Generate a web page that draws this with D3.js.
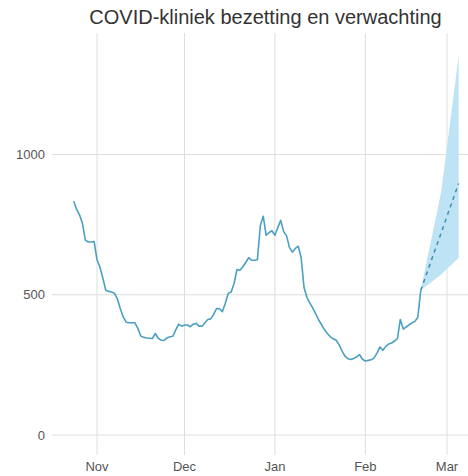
<!DOCTYPE html>
<html><head><meta charset="utf-8">
<script src="https://cdn.jsdelivr.net/npm/d3@7"></script>
<style>
html,body{margin:0;padding:0;background:#fff;}
svg{display:block;font-family:"Liberation Sans",Arial,sans-serif;}
</style></head>
<body><svg id="chart" width="468" height="476"></svg>
<script>
// Observed daily occupancy, starting 24 Oct 2020
const startDate = "2020-10-24";
const observed = [
 833,805,785,755,695,688,688,690,
 625,599,560,516,512,510,505,485,450,421,402,400,400,400,380,353,348,346,345,344,362,345,338,337,346,350,352,375,395,388,
 392,392,386,395,398,388,388,400,412,414,430,451,450,440,470,505,510,540,590,587,600,615,632,623,623,625,747,780,712,722,728,
 712,740,765,725,710,668,652,665,673,632,525,490,470,452,432,410,393,375,362,350,343,338,322,300,281,272,269,273,278,287,270,
 264,266,268,275,292,314,302,316,324,328,335,344,412,378,385,393,400,405,420,516
];
// Forecast
const forecastDates = ["2021-02-20","2021-02-27","2021-03-05"];
const forecastMid   = [516, 721, 897];
const forecastLow   = [516, 572, 632];
const forecastHigh  = [516, 866, 1352];
const yTicks = [0, 500, 1000];
const xTickDates = ["2020-11-01","2020-12-01","2021-01-01","2021-02-01","2021-03-01"];
const xTickLabels = ["Nov","Dec","Jan","Feb","Mar"];
const title = "COVID-kliniek bezetting en verwachting";

(function(){
const svg = d3.select("#chart");
const parse = d3.utcParse("%Y-%m-%d");
const pLeft = 52, pRight = 468, pTop = 33, pBottom = 455;

const x = d3.scaleUtc().domain([parse("2020-11-01"), parse("2021-03-01")]).range([97, 447]);
const y = d3.scaleLinear().domain([0, 1000]).range([435, 154.5]);

const start = parse(startDate);
const obs = observed.map((v,i) => ({date: d3.utcDay.offset(start, i), v}));
const fc = forecastDates.map((d,i) => ({date: parse(d), mid: forecastMid[i], lo: forecastLow[i], hi: forecastHigh[i]}));

// grid
const g = svg.append("g");
g.selectAll(".hg").data(yTicks).join("line")
  .attr("x1", pLeft).attr("x2", pRight)
  .attr("y1", d => y(d)).attr("y2", d => y(d))
  .attr("stroke", "#dedede").attr("stroke-width", 1);
g.selectAll(".vg").data(xTickDates).join("line")
  .attr("x1", d => x(parse(d))).attr("x2", d => x(parse(d)))
  .attr("y1", pTop).attr("y2", pBottom)
  .attr("stroke", "#dedede").attr("stroke-width", 1);

// axes labels
svg.append("g").selectAll("text").data(yTicks).join("text")
  .attr("x", 45).attr("y", d => y(d)).attr("dy", "0.35em")
  .attr("text-anchor", "end").attr("font-size", 13).attr("fill", "#555")
  .text(d => d);
svg.append("g").selectAll("text").data(xTickDates).join("text")
  .attr("x", d => x(parse(d))).attr("y", 466).attr("dy", "0.35em")
  .attr("text-anchor", "middle").attr("font-size", 13).attr("fill", "#555")
  .text((d,i) => xTickLabels[i]);

// band
svg.append("path").datum(fc)
  .attr("d", d3.area().x(d => x(d.date)).y0(d => y(d.lo)).y1(d => y(d.hi)))
  .attr("fill", "#bde3f4");

// observed line
svg.append("path").datum(obs)
  .attr("d", d3.line().x(d => x(d.date)).y(d => y(d.v)))
  .attr("fill", "none").attr("stroke", "#4b9fc1").attr("stroke-width", 1.6)
  .attr("stroke-linejoin", "round");

// forecast dashed
svg.append("path").datum(fc)
  .attr("d", d3.line().x(d => x(d.date)).y(d => y(d.mid)))
  .attr("fill", "none").attr("stroke", "#3f8db0").attr("stroke-width", 1.5)
  .attr("stroke-dasharray", "4,4");

// title
svg.append("text").attr("x", 265.5).attr("y", 24)
  .attr("text-anchor", "middle").attr("font-size", 20).attr("fill", "#333")
  .text(title);
})();
</script></body></html>
